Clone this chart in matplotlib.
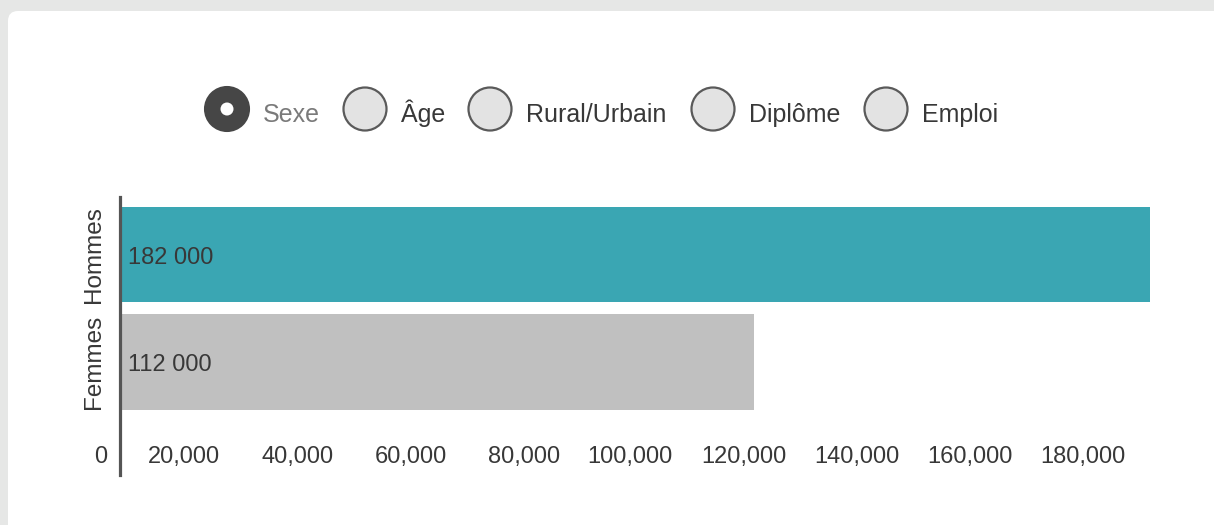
import matplotlib
matplotlib.use("Agg")
import matplotlib.pyplot as plt
import matplotlib.transforms as mtransforms
from matplotlib.patches import FancyBboxPatch, Circle

# ---- data ----
categories = ["Femmes", "Hommes"]
values = [112000, 182000]
value_labels = ["112 000", "182 000"]
bar_colors = ["#c0c0c0", "#3aa6b3"]
xticks = [0, 20000, 40000, 60000, 80000, 100000, 120000, 140000, 160000, 180000]
xtick_labels = ["0", "20,000", "40,000", "60,000", "80,000", "100,000",
                "120,000", "140,000", "160,000", "180,000"]
options = ["Sexe", "Âge", "Rural/Urbain", "Diplôme", "Emploi"]
selected = "Sexe"

# ---- layout (pixels) ----
W, H = 1214, 525
radio_cx = [227, 365, 490, 713, 886]
radio_y = 109
radio_r = 22

plt.rcParams['font.family'] = ['Liberation Sans Narrow', 'Liberation Sans', 'DejaVu Sans']

fig = plt.figure(figsize=(W / 100, H / 100), dpi=100)
fig.patch.set_facecolor("#e6e7e6")

bg = fig.add_axes([0, 0, 1, 1])
bg.set_xlim(0, W)
bg.set_ylim(H, 0)
bg.axis('off')
bg.add_patch(FancyBboxPatch((8, 11), W + 40, H + 40,
                            boxstyle="round,pad=0,rounding_size=10",
                            fc="white", ec="none"))

for opt, cx in zip(options, radio_cx):
    if opt == selected:
        bg.add_patch(Circle((cx, radio_y), radio_r, fc="#464646", ec="#464646", lw=1.5))
        bg.add_patch(Circle((cx, radio_y), 6.5, fc="white", ec="none"))
        col = "#7a7a7a"
    else:
        bg.add_patch(Circle((cx, radio_y), radio_r - 0.5, fc="#e3e3e3", ec="#5a5a5a", lw=1.6))
        col = "#383838"
    bg.text(cx + radio_r + 14, 122, opt, fontsize=18, color=col,
            ha='left', va='baseline')

# ---- main chart ----
ax = fig.add_axes([120 / W, (H - 475) / H, (1150 - 120) / W, (475 - 197) / H])
ax.set_facecolor("none")
ypos = list(range(len(categories)))
ax.barh(ypos, values, height=0.89, color=bar_colors, zorder=1)
ax.set_xlim(0, max(values))
ax.set_ylim(-1.051, 1.535)

for s in ["top", "right", "bottom"]:
    ax.spines[s].set_visible(False)
ax.spines["left"].set_color("#555555")
ax.spines["left"].set_linewidth(2.3)
ax.spines["left"].set_zorder(3)

ax.set_xticks([])
ax.set_yticks(ypos)
ax.set_yticklabels(categories, rotation=90, va='center', fontsize=17.5, color="#383838")
ax.tick_params(axis='y', length=0, pad=11)

off_val = mtransforms.ScaledTranslation(8 / 100, -3 / 100, fig.dpi_scale_trans)
for y, lab in zip(ypos, value_labels):
    ax.text(0, y, lab, transform=ax.transData + off_val, ha='left', va='center',
            fontsize=17, color="#383838", zorder=4)

blend = mtransforms.blended_transform_factory(ax.transData, ax.transAxes)
off_tick = mtransforms.ScaledTranslation(-13 / 100, 18 / 100, fig.dpi_scale_trans)
for t, lab in zip(xticks, xtick_labels):
    ax.text(t, 0, lab, transform=blend + off_tick, ha='right', va='center',
            fontsize=17, color="#383838")

fig.savefig("out.png", dpi=100)
